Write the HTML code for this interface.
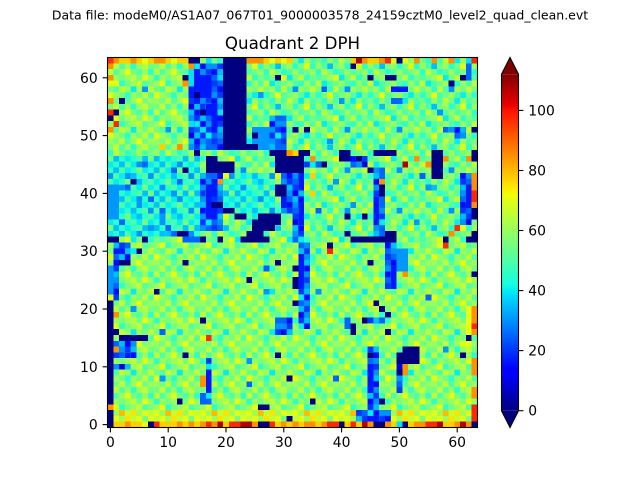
<!DOCTYPE html>
<html><head><meta charset="utf-8"><style>
html,body{margin:0;padding:0;background:#fff;}
svg{display:block;}
text{font-family:"DejaVu Sans","Liberation Sans",sans-serif;fill:#000;}
</style></head><body>
<svg width="640" height="480" viewBox="0 0 640 480" xmlns="http://www.w3.org/2000/svg">
<defs>
<pattern id="pA" width="9" height="7" patternUnits="userSpaceOnUse">
<rect width="9" height="7" fill="#74ff82"/>
<path fill="#0092ff" d="M5 5h1v1h-1z"/>
<path fill="#00bfff" d="M2 1h1v1h-1z"/>
<path fill="#06edf1" d="M6 0h1v1h-1zM4 3h1v1h-1zM1 4h1v1h-1zM7 6h1v1h-1z"/>
<path fill="#2bffcc" d="M1 0h1v1h-1zM5 1h1v1h-1zM8 1h1v1h-1zM0 2h1v1h-1zM3 2h1v1h-1zM7 3h1v1h-1zM6 4h1v1h-1zM2 5h1v1h-1zM0 6h1v1h-1z"/>
<path fill="#4fffa7" d="M3 0h1v1h-1zM8 0h1v1h-1zM1 1h1v1h-1zM4 2h1v1h-1zM6 2h1v1h-1zM0 3h1v1h-1zM2 4h1v1h-1zM5 4h1v1h-1zM8 4h1v1h-1zM4 5h1v1h-1zM3 6h1v1h-1zM6 6h1v1h-1z"/>
<path fill="#99ff5d" d="M2 0h1v1h-1zM7 0h1v1h-1zM0 1h1v1h-1zM4 1h1v1h-1zM5 2h1v1h-1zM8 2h1v1h-1zM2 3h1v1h-1zM4 4h1v1h-1zM7 4h1v1h-1zM1 5h1v1h-1zM6 5h1v1h-1zM5 6h1v1h-1z"/>
<path fill="#beff38" d="M4 0h1v1h-1zM1 2h1v1h-1zM6 3h1v1h-1zM0 4h1v1h-1zM3 5h1v1h-1zM8 5h1v1h-1z"/>
<path fill="#e2ff14" d="M7 1h1v1h-1zM3 3h1v1h-1zM2 6h1v1h-1z"/>
</pattern>
<pattern id="pB" width="7" height="6" patternUnits="userSpaceOnUse">
<rect width="7" height="6" fill="#2bffcc"/>
<path fill="#0092ff" d="M5 0h1v1h-1zM0 2h1v1h-1zM2 4h1v1h-1z"/>
<path fill="#00bfff" d="M2 0h1v1h-1zM1 1h1v1h-1zM4 2h1v1h-1zM5 3h1v1h-1zM1 5h1v1h-1zM6 5h1v1h-1z"/>
<path fill="#06edf1" d="M0 0h1v1h-1zM4 0h1v1h-1zM3 1h1v1h-1zM6 1h1v1h-1zM2 2h1v1h-1zM1 3h1v1h-1zM4 3h1v1h-1zM0 4h1v1h-1zM5 4h1v1h-1zM3 5h1v1h-1z"/>
<path fill="#4fffa7" d="M3 0h1v1h-1zM2 1h1v1h-1zM1 2h1v1h-1zM6 2h1v1h-1zM0 3h1v1h-1zM4 4h1v1h-1zM5 5h1v1h-1z"/>
<path fill="#74ff82" d="M5 1h1v1h-1zM3 3h1v1h-1zM6 4h1v1h-1zM0 5h1v1h-1z"/>
</pattern>
<pattern id="pD" width="8" height="7" patternUnits="userSpaceOnUse">
<rect width="8" height="7" fill="#99ff5d"/>
<path fill="#06edf1" d="M4 5h1v1h-1z"/>
<path fill="#2bffcc" d="M4 1h1v1h-1zM7 2h1v1h-1zM0 3h1v1h-1zM2 4h1v1h-1zM3 6h1v1h-1z"/>
<path fill="#4fffa7" d="M3 0h1v1h-1zM2 1h1v1h-1zM1 2h1v1h-1zM5 2h1v1h-1zM6 4h1v1h-1zM1 5h1v1h-1zM7 6h1v1h-1z"/>
<path fill="#74ff82" d="M1 0h1v1h-1zM6 0h1v1h-1zM0 1h1v1h-1zM7 1h1v1h-1zM4 2h1v1h-1zM2 3h1v1h-1zM5 3h1v1h-1zM3 4h1v1h-1zM7 4h1v1h-1zM0 5h1v1h-1zM6 5h1v1h-1zM2 6h1v1h-1zM5 6h1v1h-1z"/>
<path fill="#beff38" d="M2 0h1v1h-1zM1 1h1v1h-1zM6 1h1v1h-1zM0 2h1v1h-1zM4 3h1v1h-1zM5 4h1v1h-1zM2 5h1v1h-1zM7 5h1v1h-1zM6 6h1v1h-1z"/>
<path fill="#e2ff14" d="M5 0h1v1h-1zM3 2h1v1h-1zM6 3h1v1h-1zM1 4h1v1h-1zM0 6h1v1h-1z"/>
</pattern>
<pattern id="pC" width="8" height="2" patternUnits="userSpaceOnUse">
<rect width="8" height="2" fill="#e2ff14"/>
<path fill="#74ff82" d="M6 0h1v1h-1z"/>
<path fill="#99ff5d" d="M2 0h1v1h-1zM1 1h1v1h-1zM5 1h1v1h-1z"/>
<path fill="#beff38" d="M0 0h1v1h-1zM4 0h1v1h-1zM3 1h1v1h-1zM7 1h1v1h-1z"/>
<path fill="#ffe300" d="M3 0h1v1h-1zM4 1h1v1h-1z"/>
<path fill="#ffb900" d="M2 1h1v1h-1z"/>
</pattern>
<pattern id="pM" width="6" height="5" patternUnits="userSpaceOnUse">
<rect width="6" height="5" fill="#0064ff"/>
<path fill="#0000e7" d="M2 3h1v1h-1z"/>
<path fill="#0009ff" d="M1 0h1v1h-1zM4 1h1v1h-1zM0 2h1v1h-1zM3 4h1v1h-1z"/>
<path fill="#0037ff" d="M3 0h1v1h-1zM1 1h1v1h-1zM2 2h1v1h-1zM5 2h1v1h-1zM4 3h1v1h-1zM0 4h1v1h-1z"/>
<path fill="#0092ff" d="M2 0h1v1h-1zM0 1h1v1h-1zM5 1h1v1h-1zM4 2h1v1h-1zM1 3h1v1h-1zM4 4h1v1h-1z"/>
<path fill="#00bfff" d="M4 0h1v1h-1zM1 2h1v1h-1zM3 3h1v1h-1zM2 4h1v1h-1z"/>
<path fill="#06edf1" d="M3 1h1v1h-1zM5 3h1v1h-1z"/>
</pattern>
<linearGradient id="jet" x1="0" y1="1" x2="0" y2="0">
<stop offset="0" stop-color="#000080"/>
<stop offset="0.11" stop-color="#0000ff"/>
<stop offset="0.125" stop-color="#0000ff"/>
<stop offset="0.34" stop-color="#00dbff"/>
<stop offset="0.35" stop-color="#00e6f7"/>
<stop offset="0.375" stop-color="#14ffe2"/>
<stop offset="0.64" stop-color="#eeff08"/>
<stop offset="0.66" stop-color="#ffec00"/>
<stop offset="0.89" stop-color="#ff1300"/>
<stop offset="0.91" stop-color="#e80000"/>
<stop offset="1" stop-color="#800000"/>
</linearGradient>
</defs>

<text x="320" y="19.5" font-size="12.5" text-anchor="middle">Data file: modeM0/AS1A07_067T01_9000003578_24159cztM0_level2_quad_clean.evt</text>
<text x="292.5" y="49.2" font-size="16.67" text-anchor="middle">Quadrant 2 DPH</text>

<g transform="translate(107.5 57.5) scale(5.78125)" shape-rendering="crispEdges">
<rect x="0" y="0" width="64" height="64" fill="url(#pA)"/>
<rect x="0" y="32" width="64" height="29" fill="url(#pD)"/>
<rect x="0" y="1" width="14" height="15" fill="url(#pD)"/>
<rect x="0" y="61" width="64" height="2" fill="url(#pC)"/>
<rect x="0" y="17" width="16" height="14" fill="url(#pB)"/>
<rect x="20" y="20" width="9" height="7" fill="url(#pB)"/>

<path fill="#0098ff" d="M50 33h2v4h-2zM25 12h3v4h-3zM0 22h2v6h-2zM0 36h1v5h-1zM5 25h1v1h-1zM9 27h1v1h-1zM3 20h1v1h-1zM11 23h1v1h-1zM7 29h1v1h-1zM39 21h1v1h-1zM42 25h1v1h-1zM55 22h1v1h-1zM36 40h1v1h-1zM58 50h1v1h-1zM24 52h1v1h-1zM9 55h1v1h-1zM27 40h1v1h-1zM4 43h1v1h-1zM57 9h1v1h-1zM40 7h1v1h-1zM10 12h1v1h-1zM6 5h1v1h-1zM53 28h1v1h-1zM38 14h1v1h-1zM26 6h1v1h-1z"/>

<path fill="url(#pM)" d="M14 1h6v15h-6zM16 20h4v10h-4zM32 19h2v13h-2zM33 32h2v15h-2zM46 19h2v13h-2zM45 50h2v12h-2zM48 32h2v8h-2zM17 52h1v8h-1zM1 49h4v3h-4zM1 53h3v1h-3zM1 32h3v3h-3zM1 35h1v7h-1zM61 20h2v9h-2zM60 12h2v2h-2zM30 20h2v7h-2zM28 10h3v6h-3zM43 61h6v2h-6zM29 45h3v3h-3zM10 30h5v1h-5zM34 18h3v1h-3zM42 17h3v2h-3zM50 53h1v5h-1zM45 45h3v1h-3z"/>
<path fill="#0064ff" d="M49 7h2v1h-2zM62 1h1v3h-1zM41 45h1v2h-1zM16 58h1v2h-1zM13 31h3v1h-3zM3 22h1v1h-1zM7 24h1v1h-1zM11 19h1v1h-1zM2 28h1v1h-1zM9 26h1v1h-1zM12 21h1v1h-1zM6 18h1v1h-1zM10 29h1v1h-1zM36 26h1v1h-1zM54 20h1v1h-1zM39 55h1v1h-1zM55 41h1v1h-1zM24 56h1v1h-1zM9 47h1v1h-1zM58 12h1v1h-1zM37 5h1v1h-1zM27 36h1v1h-1z"/>

<path fill="#0018ff" d="M15 2h1v6h-1zM16 3h2v4h-2zM17 8h2v2h-2zM18 10h1v3h-1zM17 22h1v6h-1zM18 21h1v3h-1zM18 26h1v2h-1zM33 20h1v3h-1zM33 25h1v4h-1zM33 34h1v6h-1zM46 24h1v5h-1zM45 53h1v5h-1zM49 36h1v4h-1zM17 54h1v4h-1zM49 5h3v1h-3zM45 62h2v1h-2zM62 22h1v4h-1zM30 23h1v3h-1zM3 51h1v1h-1zM1 33h2v1h-2zM14 5h1v2h-1z"/>

<path fill="#06e0f5" d="M14 1h1v4h-1zM19 9h1v1h-1zM16 12h1v1h-1zM17 0h1v1h-1zM62 0h1v1h-1zM50 63h1v1h-1zM19 3h1v1h-1zM14 11h1v1h-1z"/>

<path fill="#000080" d="M20 0h4v16h-4zM24 15h2v1h-2zM14 0h2v1h-2zM0 42h1v22h-1zM1 47h1v1h-1zM2 48h5v1h-5zM0 31h2v1h-2zM17 18h5v2h-5zM17 17h2v1h-2zM15 16h1v1h-1zM29 17h5v3h-5zM28 16h3v1h-3zM33 16h2v1h-2zM40 16h2v2h-2zM46 16h4v1h-4zM56 16h2v5h-2zM63 16h1v2h-1zM37 18h1v1h-1zM43 17h1v1h-1zM45 19h1v1h-1zM47 22h1v2h-1zM42 31h8v1h-8zM41 30h1v1h-1zM48 30h2v1h-2zM44 27h1v1h-1zM41 27h1v1h-1zM58 31h1v1h-1zM62 31h2v1h-2zM63 26h1v2h-1zM63 30h1v1h-1zM26 27h4v1h-4zM25 28h5v1h-5zM25 29h4v1h-4zM24 30h3v1h-3zM23 31h5v1h-5zM20 26h2v1h-2zM22 27h2v1h-2zM18 25h2v1h-2zM16 31h1v1h-1zM19 31h1v1h-1zM6 31h1v1h-1zM12 30h2v1h-2zM26 60h2v1h-2zM7 63h1v1h-1zM26 63h2v1h-2zM40 63h1v1h-1zM46 63h2v1h-2zM51 63h1v1h-1zM63 63h1v1h-1zM51 50h3v3h-3zM50 51h1v2h-1zM50 54h1v1h-1zM8 40h1v1h-1zM13 35h1v1h-1zM24 38h1v1h-1zM29 35h1v1h-1zM16 45h1v1h-1zM13 51h1v1h-1zM12 59h1v1h-1zM29 51h1v1h-1zM31 55h1v1h-1zM31 62h1v1h-1zM5 33h1v1h-1zM2 35h2v1h-2zM32 36h1v1h-1zM32 38h1v2h-1zM32 42h1v1h-1zM38 32h1v1h-1zM45 35h1v1h-1zM46 42h1v1h-1zM47 43h1v1h-1zM48 44h1v1h-1zM44 45h1v1h-1zM42 46h1v2h-1zM48 47h1v1h-1zM62 48h1v1h-1zM61 51h1v1h-1zM63 37h1v1h-1zM45 51h1v1h-1zM47 59h1v1h-1zM35 59h1v1h-1zM13 3h1v1h-1zM29 3h1v1h-1zM1 9h1v1h-1zM0 10h1v1h-1zM2 7h1v1h-1zM25 13h1v1h-1zM42 1h1v1h-1zM45 3h1v1h-1zM48 3h2v1h-2zM50 0h1v1h-1zM59 4h1v1h-1zM61 3h1v1h-1zM32 12h1v1h-1zM34 12h1v1h-1zM63 12h1v1h-1zM4 21h1v1h-1zM13 19h1v1h-1zM29 22h2v2h-2zM16 9h1v1h-1zM15 6h1v1h-1z"/>

<path fill="#e2ff14" d="M6 0h1v1h-1zM11 0h1v1h-1zM28 0h1v1h-1zM30 0h1v1h-1zM49 0h1v1h-1zM51 0h1v1h-1zM0 4h2v1h-2zM1 10h1v1h-1zM20 20h1v1h-1zM62 43h1v5h-1zM62 49h1v1h-1zM6 63h1v1h-1z"/>
<path fill="#ffd000" d="M2 0h2v1h-2zM5 0h1v1h-1zM7 0h1v1h-1zM10 0h1v1h-1zM12 0h2v1h-2zM27 0h1v1h-1zM29 0h1v1h-1zM31 0h1v1h-1zM42 0h1v1h-1zM45 0h2v1h-2zM32 16h1v1h-1zM9 15h1v1h-1zM35 20h1v1h-1zM35 23h1v1h-1zM1 63h2v1h-2zM4 63h2v1h-2zM9 63h3v1h-3zM13 63h1v1h-1zM15 63h1v1h-1zM20 63h1v1h-1zM29 63h1v1h-1zM31 63h1v1h-1zM33 63h1v1h-1zM36 63h1v1h-1zM41 63h1v1h-1zM43 63h1v1h-1zM49 63h1v1h-1zM52 63h1v1h-1zM58 63h2v1h-2z"/>
<path fill="#ff9000" d="M1 0h1v1h-1zM4 0h1v1h-1zM8 0h2v1h-2zM24 0h3v1h-3zM44 0h1v1h-1zM47 0h1v1h-1zM53 0h1v1h-1zM56 0h1v1h-1zM59 0h1v1h-1zM14 1h1v1h-1zM0 1h1v1h-1zM0 3h1v1h-1zM0 7h1v1h-1zM0 12h1v1h-1zM13 4h1v1h-1zM12 15h1v1h-1zM19 21h1v1h-1zM31 16h1v1h-1zM35 17h1v1h-1zM53 17h1v1h-1zM55 18h1v1h-1zM58 17h1v1h-1zM62 17h1v1h-1zM59 30h1v1h-1zM51 37h1v1h-1zM16 55h1v2h-1zM51 53h1v2h-1zM63 20h1v3h-1zM63 25h1v1h-1zM63 43h1v5h-1zM63 52h1v3h-1zM63 57h1v2h-1zM1 44h1v1h-1zM1 50h1v1h-1zM0 60h1v1h-1zM47 21h1v1h-1zM3 63h1v1h-1zM12 63h1v1h-1zM14 63h1v1h-1zM16 63h1v1h-1zM18 63h1v1h-1zM25 63h1v1h-1zM30 63h1v1h-1zM32 63h1v1h-1zM34 63h2v1h-2zM37 63h1v1h-1zM45 63h1v1h-1zM48 63h1v1h-1zM53 63h2v1h-2zM60 63h1v1h-1zM62 63h1v1h-1z"/>
<path fill="#ff2800" d="M0 0h1v1h-1zM48 0h1v1h-1zM63 0h1v1h-1zM0 9h1v1h-1zM1 11h1v1h-1zM17 48h1v1h-1zM60 29h1v1h-1zM58 32h1v1h-1zM38 33h1v1h-1zM63 23h1v2h-1zM63 46h1v1h-1zM63 60h1v3h-1zM8 63h1v1h-1zM17 63h1v1h-1zM21 63h2v1h-2zM28 63h1v1h-1zM38 63h2v1h-2zM42 63h1v1h-1zM55 63h2v1h-2z"/>
<path fill="#b40000" d="M43 0h1v1h-1zM51 18h1v1h-1zM19 63h1v1h-1zM23 63h2v1h-2zM44 63h1v1h-1zM57 63h1v1h-1zM61 63h1v1h-1z"/>
</g>

<rect x="107.5" y="57.5" width="370" height="370" fill="none" stroke="#000" stroke-width="1.1"/>
<g stroke="#000" stroke-width="1.1">
<line x1="110.4" y1="427.5" x2="110.4" y2="432.4"/>
<line x1="168.2" y1="427.5" x2="168.2" y2="432.4"/>
<line x1="226.0" y1="427.5" x2="226.0" y2="432.4"/>
<line x1="283.8" y1="427.5" x2="283.8" y2="432.4"/>
<line x1="341.6" y1="427.5" x2="341.6" y2="432.4"/>
<line x1="399.4" y1="427.5" x2="399.4" y2="432.4"/>
<line x1="457.2" y1="427.5" x2="457.2" y2="432.4"/>
<line x1="102.6" y1="424.6" x2="107.5" y2="424.6"/>
<line x1="102.6" y1="366.8" x2="107.5" y2="366.8"/>
<line x1="102.6" y1="309.0" x2="107.5" y2="309.0"/>
<line x1="102.6" y1="251.2" x2="107.5" y2="251.2"/>
<line x1="102.6" y1="193.4" x2="107.5" y2="193.4"/>
<line x1="102.6" y1="135.6" x2="107.5" y2="135.6"/>
<line x1="102.6" y1="77.8" x2="107.5" y2="77.8"/>
</g>
<g font-size="13.9" text-anchor="middle">
<text x="110.4" y="447">0</text>
<text x="168.2" y="447">10</text>
<text x="226.0" y="447">20</text>
<text x="283.8" y="447">30</text>
<text x="341.6" y="447">40</text>
<text x="399.4" y="447">50</text>
<text x="457.2" y="447">60</text>
</g>
<g font-size="13.9" text-anchor="end">
<text x="97.7" y="429.6">0</text>
<text x="97.7" y="371.8">10</text>
<text x="97.7" y="314.0">20</text>
<text x="97.7" y="256.2">30</text>
<text x="97.7" y="198.4">40</text>
<text x="97.7" y="140.6">50</text>
<text x="97.7" y="82.8">60</text>
</g>

<polygon points="510,57.5 518.5,74.3 501.5,74.3" fill="#800000"/>
<rect x="501.5" y="74.3" width="17" height="336.4" fill="url(#jet)"/>
<polygon points="501.5,410.7 518.5,410.7 510,427.5" fill="#000080"/>
<polygon points="510,57.5 518.5,74.3 518.5,410.7 510,427.5 501.5,410.7 501.5,74.3" fill="none" stroke="#000" stroke-width="1.1"/>
<g stroke="#000" stroke-width="1.1">
<line x1="518.5" y1="410.7" x2="523.4" y2="410.7"/>
<line x1="518.5" y1="350.6" x2="523.4" y2="350.6"/>
<line x1="518.5" y1="290.6" x2="523.4" y2="290.6"/>
<line x1="518.5" y1="230.5" x2="523.4" y2="230.5"/>
<line x1="518.5" y1="170.5" x2="523.4" y2="170.5"/>
<line x1="518.5" y1="110.4" x2="523.4" y2="110.4"/>
</g>
<g font-size="13.9" text-anchor="start">
<text x="528.3" y="415.7">0</text>
<text x="528.3" y="355.6">20</text>
<text x="528.3" y="295.6">40</text>
<text x="528.3" y="235.5">60</text>
<text x="528.3" y="175.5">80</text>
<text x="528.3" y="115.4">100</text>
</g>
</svg>
</body></html>
